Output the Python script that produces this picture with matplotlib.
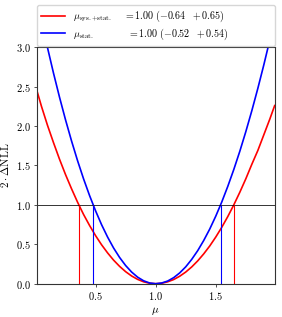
import matplotlib
matplotlib.use("Agg")
import matplotlib.pyplot as plt
from matplotlib.ticker import FuncFormatter

plt.rcParams["mathtext.fontset"] = "cm"
plt.rcParams["font.family"] = "serif"
plt.rcParams["font.serif"] = ["DejaVu Serif"]

# scan points (mu) and 2*dNLL
mu = [0.01, 0.05, 0.10, 0.15, 0.20, 0.25, 0.30, 0.35, 0.40, 0.45, 0.50,
      0.55, 0.60, 0.65, 0.70, 0.75, 0.80, 0.85, 0.90, 0.95, 1.00,
      1.05, 1.10, 1.15, 1.20, 1.25, 1.30, 1.35, 1.40, 1.45, 1.50,
      1.55, 1.60, 1.65, 1.70, 1.75, 1.80, 1.85, 1.90, 1.95, 1.99]

nll_syst = [2.46, 2.25, 2.01, 1.79, 1.58, 1.385, 1.205, 1.035, 0.879, 0.739, 0.610,
            0.494, 0.391, 0.299, 0.220, 0.153, 0.098, 0.055, 0.024, 0.006, 0.0,
            0.006, 0.024, 0.053, 0.095, 0.148, 0.213, 0.290, 0.379, 0.479, 0.592,
            0.716, 0.852, 1.000, 1.160, 1.331, 1.515, 1.69, 1.89, 2.09, 2.26]

nll_stat = [3.625, 3.338, 2.996, 2.672, 2.367, 2.080, 1.812, 1.562, 1.331, 1.119, 0.925,
            0.749, 0.592, 0.453, 0.333, 0.231, 0.148, 0.083, 0.037, 0.009, 0.0,
            0.009, 0.034, 0.077, 0.137, 0.214, 0.309, 0.420, 0.549, 0.694, 0.857,
            1.037, 1.235, 1.449, 1.680, 1.929, 2.195, 2.478, 2.778, 3.095, 3.361]

best = 1.00
syst_down, syst_up = 0.64, 0.65
stat_down, stat_up = 0.52, 0.54

fig = plt.figure(figsize=(2.82, 3.17), dpi=100)
ax = fig.add_axes([0.130, 0.105, 0.844, 0.746])

ax.plot(mu, nll_syst, color="red", lw=1.2,
        label=r"$\mu_{\mathrm{sys.}{+}\mathrm{stat.}}\quad\; = 1.00\ (-0.64\ \ +0.65)$")
ax.plot(mu, nll_stat, color="blue", lw=1.2,
        label=r"$\mu_{\mathrm{stat.}}\qquad\quad\ \;\, = 1.00\ (-0.52\ \ +0.54)$")

ax.axhline(1.0, color="black", lw=0.7, alpha=0.8)
ax.vlines([best - syst_down, best + syst_up], 0, 1, color="red", lw=0.8)
ax.vlines([best - stat_down, best + stat_up], 0, 1, color="blue", lw=0.8)

ax.set_xlim(0.01, 1.99)
ax.set_ylim(0, 3)
ax.set_xticks([0.5, 1.0, 1.5])
ax.set_yticks([0, 0.5, 1.0, 1.5, 2.0, 2.5, 3.0])
fmt = FuncFormatter(lambda v, p: f"${v:.1f}$")
ax.xaxis.set_major_formatter(fmt)
ax.yaxis.set_major_formatter(fmt)
ax.tick_params(labelsize=7.5, length=2.5, width=0.6, pad=2, color="#333333")
for s in ax.spines.values():
    s.set_linewidth(0.8)
    s.set_color("#333333")

ax.set_xlabel(r"$\mu$", fontsize=8, labelpad=2)
ax.set_ylabel(r"$2\cdot\Delta\mathrm{NLL}$", fontsize=8, labelpad=3)

ax.legend(loc="upper left", bbox_to_anchor=(37 / 282, 0, 238 / 282, 1 - 5 / 317),
          bbox_transform=fig.transFigure, mode="expand",
          fontsize=7.2, frameon=True, borderaxespad=0, handlelength=2.4,
          handletextpad=0.8, labelspacing=0.2, borderpad=0.4)

fig.savefig("out.png", dpi=100)
